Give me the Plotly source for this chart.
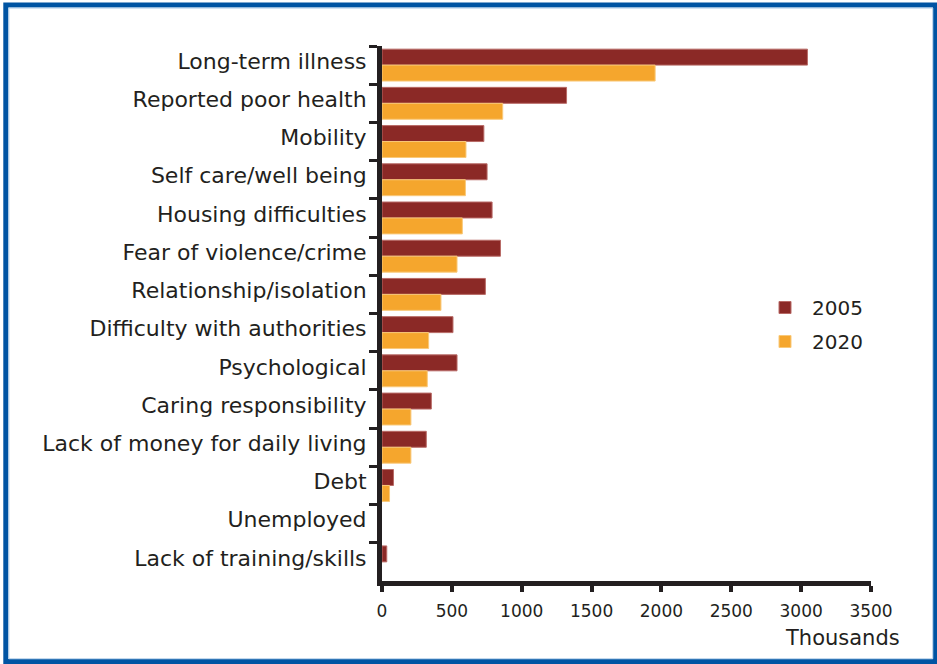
import plotly.graph_objects as go

# Barriers, in thousands of people
categories = [
    "Long-term illness",
    "Reported poor health",
    "Mobility",
    "Self care/well being",
    "Housing difficulties",
    "Fear of violence/crime",
    "Relationship/isolation",
    "Difficulty with authorities",
    "Psychological",
    "Caring responsibility",
    "Lack of money for daily living",
    "Debt",
    "Unemployed",
    "Lack of training/skills",
]
values_2005 = [3045, 1321, 729, 752, 788, 848, 740, 508, 537, 353, 317, 82, 0, 34]
values_2020 = [1955, 864, 601, 597, 575, 537, 422, 334, 324, 207, 207, 54, 0, 0]
x_ticks = [0, 500, 1000, 1500, 2000, 2500, 3000, 3500]

W, H = 937, 664
ML, MR, MT, MB = 382, 66, 46, 83
INK = "#231f20"
FONT = "DejaVu Sans"


def px_x(px):
    return (px - ML) / (W - ML - MR)


def px_y(py):
    return (H - MB - py) / (H - MT - MB)


def edge_widths(vals):
    # no outline on empty bars
    return [1 if v > 0 else 0 for v in vals]


fig = go.Figure()
fig.add_trace(go.Bar(
    name="2005", y=categories, x=values_2005, orientation="h",
    marker=dict(color="#8b2926",
                line=dict(color="#b86a66", width=edge_widths(values_2005))),
    legendgroup="a",
))
fig.add_trace(go.Bar(
    name="2020", y=categories, x=values_2020, orientation="h",
    marker=dict(color="#f5a62d",
                line=dict(color="#f9c97a", width=edge_widths(values_2020))),
    legendgroup="b",
))

fig.update_layout(
    width=W, height=H,
    margin=dict(l=ML, r=MR, t=MT, b=MB, pad=0),
    paper_bgcolor="white", plot_bgcolor="white",
    barmode="group", bargap=0.165, bargroupgap=0,
    font=dict(family=FONT, color=INK),
    legend=dict(
        x=px_x(758), y=px_y(288), xanchor="left", yanchor="top",
        traceorder="grouped", tracegroupgap=5, itemwidth=44,
        font=dict(size=20, color=INK), bgcolor="rgba(0,0,0,0)",
    ),
)

fig.update_yaxes(
    type="category", autorange="reversed",
    showline=True, linecolor=INK, linewidth=5,
    ticks="outside", tickson="boundaries", ticklen=8, tickwidth=3, tickcolor=INK,
    tickfont=dict(size=22, color=INK), ticklabelstandoff=6, ticklabelshift=4,
    showgrid=False, zeroline=False,
)
fig.update_xaxes(
    range=[0, 3500], tickvals=x_ticks, ticktext=[str(v) for v in x_ticks],
    showline=True, linecolor=INK, linewidth=5,
    ticks="outside", ticklen=6, tickwidth=4, tickcolor=INK,
    tickfont=dict(size=17, color=INK), ticklabelstandoff=5,
    showgrid=False, zeroline=False,
)

fig.add_annotation(
    text="Thousands", xref="paper", yref="paper",
    x=px_x(902), y=px_y(638), xanchor="right", yanchor="middle",
    showarrow=False, font=dict(size=21, color=INK),
)

# Blue frame around the whole figure
fig.add_shape(
    type="rect", xref="paper", yref="paper",
    x0=px_x(5.8), x1=px_x(935.5), y0=px_y(661.5), y1=px_y(5),
    line=dict(color="#0054a3", width=5), fillcolor="rgba(0,0,0,0)", layer="below",
)
fig.add_shape(
    type="rect", xref="paper", yref="paper",
    x0=px_x(8.8), x1=px_x(932.8), y0=px_y(658.8), y1=px_y(8),
    line=dict(color="#a9c8e6", width=1), fillcolor="rgba(0,0,0,0)", layer="below",
)

fig.write_html("out.html")
